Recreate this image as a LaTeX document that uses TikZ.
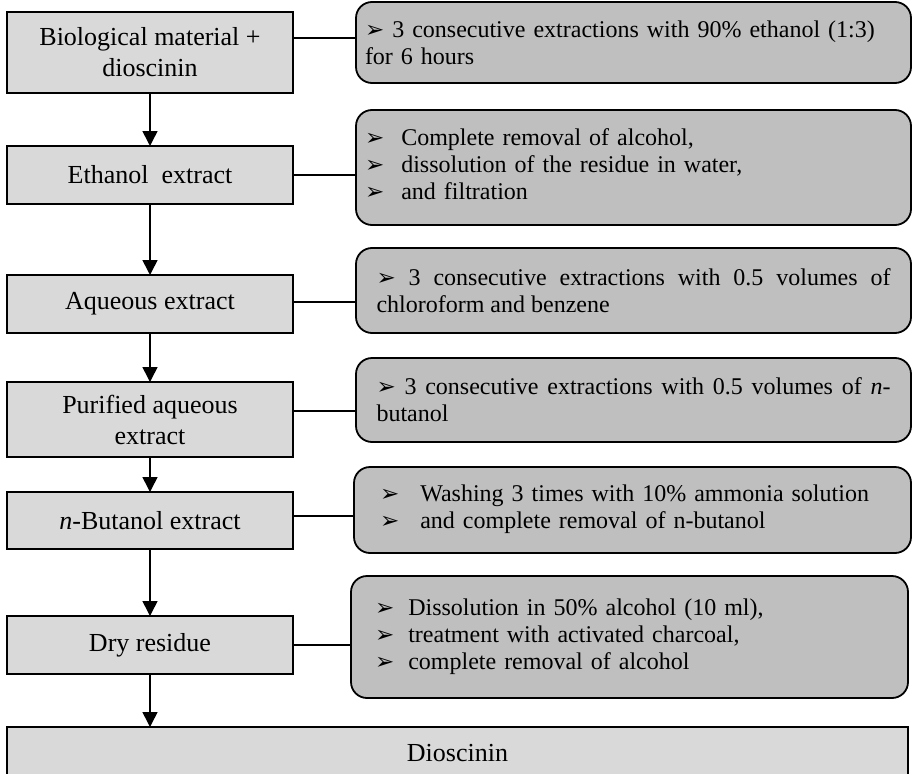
\documentclass[tikz,border=0pt]{standalone}
\usepackage{fontspec}
\setmainfont{Liberation Serif}
\newfontfamily\dejavu{DejaVu Sans}
\usetikzlibrary{arrows.meta, positioning}
\definecolor{stagegray}{RGB}{217,217,217}
\definecolor{notegray}{RGB}{191,191,191}
\setlength{\parindent}{0pt}
\newcommand{\bul}{{\dejavu\fontsize{23}{23}\selectfont ➢}}

\begin{document}
\begin{tikzpicture}[x=1pt, y=-1pt,
    stagebox/.style={draw, line width=1.8pt, fill=stagegray, minimum width=286pt,
                     minimum height=58pt, inner sep=2pt, outer sep=0pt, align=center,
                     font=\fontsize{26}{31}\selectfont},
    note/.style={draw, line width=1.8pt, fill=notegray, rounded corners=16pt,
                 anchor=north west, minimum width=555pt, outer sep=0pt,
                 font=\fontsize{24}{27}\selectfont},
    link/.style={line width=1.6pt},
    arr/.style={-{Triangle[width=15pt,length=15pt]}, line width=1.6pt}
]
\useasboundingbox (0,0) rectangle (912,773);

% Main steps
\node[stagebox, anchor=north west, minimum height=81pt] (bio) at (7,12) {Biological material +\\ dioscinin};
\node[stagebox, below=53pt of bio] (ethanol) {Ethanol\ \ extract};
\node[stagebox, below=71pt of ethanol] (aqueous) {Aqueous extract};
\node[stagebox, below=49pt of aqueous, minimum height=75pt] (purified) {Purified aqueous\\ extract};
\node[stagebox, below=35pt of purified, minimum height=57pt] (butanol) {\textit{n}-Butanol extract};
\node[stagebox, below=67pt of butanol] (residue) {Dry residue};
\node[stagebox, below=53pt of residue.south west, anchor=north west,
      minimum width=901pt, minimum height=52pt] (dioscinin) {Dioscinin};

% Treatments on the right
\node[note, minimum height=81pt, text width=537pt, inner xsep=9pt, align=left] (ext1) at (356,2)
  {\bul\ 3 consecutive extractions with 90\% ethanol (1:3)\\ for 6 hours};
\node[note, minimum height=115pt, text width=537pt, inner xsep=9pt, align=left] (ext2) at (356,110)
  {\begin{tabular}{@{}l@{\hspace{17pt}}l@{}}
   \bul & Complete removal of alcohol,\\
   \bul & dissolution of the residue in water,\\
   \bul & and filtration
   \end{tabular}};
\node[note, minimum height=85pt, text width=514pt, inner xsep=20.5pt, align=justify] (ext3) at (356,248)
  {\bul\ 3 consecutive extractions with 0.5 volumes of\linebreak chloroform and benzene};
\node[note, minimum height=84pt, text width=514pt, inner xsep=20.5pt, align=justify] (ext4) at (356,358)
  {\bul\ 3 consecutive extractions with 0.5 volumes of \textit{n}-\linebreak butanol};
\node[note, minimum height=86pt, minimum width=557pt, text width=505pt, inner xsep=26pt, align=left] (ext5) at (354,467)
  {\begin{tabular}{@{}l@{\hspace{21pt}}l@{}}
   \bul & Washing 3 times with 10\% ammonia solution\\
   \bul & and complete removal of n-butanol
   \end{tabular}};
\node[note, minimum height=122pt, minimum width=557pt, text width=509pt, inner xsep=24pt, align=left] (ext6) at (351,576)
  {\begin{tabular}{@{}l@{\hspace{14pt}}l@{}}
   \bul & Dissolution in 50\% alcohol (10 ml),\\
   \bul & treatment with activated charcoal,\\
   \bul & complete removal of alcohol
   \end{tabular}};

% Flow
\draw[arr] (bio) -- (ethanol);
\draw[arr] (ethanol) -- (aqueous);
\draw[arr] (aqueous) -- (purified);
\draw[arr] (purified) -- (butanol);
\draw[arr] (butanol) -- (residue);
\draw[arr] (residue.south) -- (residue.south |- dioscinin.north);

% Links to treatments
\draw[link] ([yshift=14.5pt]bio.east) -- ([yshift=14.5pt]bio.east -| ext1.west);
\draw[link] (ethanol.east) -- (ethanol.east -| ext2.west);
\draw[link] ([yshift=2pt]aqueous.east) -- ([yshift=2pt]aqueous.east -| ext3.west);
\draw[link] ([yshift=8.5pt]purified.east) -- ([yshift=8.5pt]purified.east -| ext4.west);
\draw[link] ([yshift=4.5pt]butanol.east) -- ([yshift=4.5pt]butanol.east -| ext5.west);
\draw[link] (residue.east) -- (residue.east -| ext6.west);
\end{tikzpicture}
\end{document}
